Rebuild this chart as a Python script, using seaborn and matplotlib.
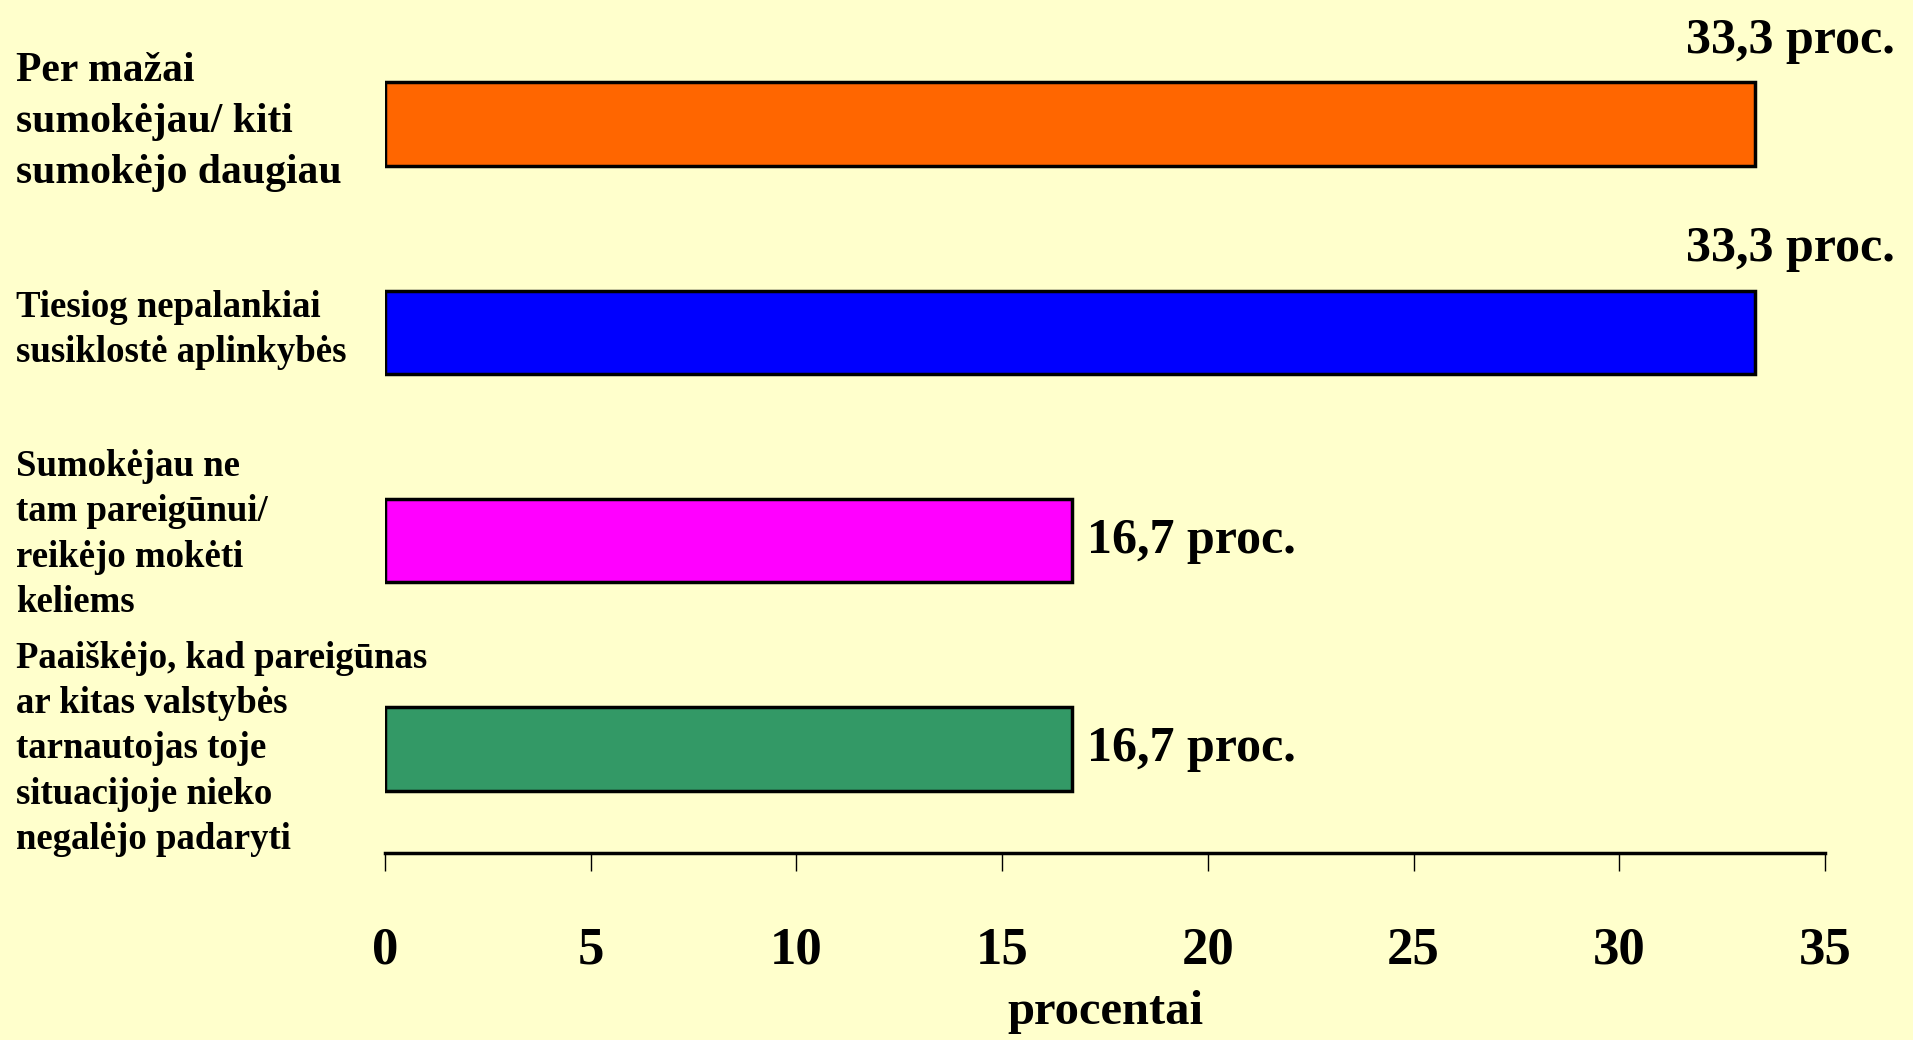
import matplotlib
matplotlib.use("Agg")
import matplotlib.pyplot as plt
import matplotlib.transforms as mtransforms
import seaborn as sns
import pandas as pd

categories = [
    "Per mažai\nsumokėjau/ kiti\nsumokėjo daugiau",
    "Tiesiog nepalankiai\nsusiklostė aplinkybės",
    "Sumokėjau ne\ntam pareigūnui/\nreikėjo mokėti\nkeliems",
    "Paaiškėjo, kad pareigūnas\nar kitas valstybės\ntarnautojas toje\nsituacijoje nieko\nnegalėjo padaryti",
]
values = [33.3, 33.3, 16.7, 16.7]
value_labels = ["33,3 proc.", "33,3 proc.", "16,7 proc.", "16,7 proc."]
bar_colors = ["#FF6600", "#0000FF", "#FF00FF", "#339966"]
xticks = [0, 5, 10, 15, 20, 25, 30, 35]
xlabel = "procentai"

bg = "#FFFFCC"

sns.set_style("white")
plt.rcParams['font.family'] = ['Liberation Serif', 'DejaVu Serif']
plt.rcParams['font.weight'] = 'bold'
plt.rcParams['text.color'] = 'black'
plt.rcParams['xtick.color'] = 'black'
plt.rcParams['xtick.labelcolor'] = 'black'
plt.rcParams['axes.labelcolor'] = 'black'

df = pd.DataFrame({"cat": categories, "val": values})

fig = plt.figure(figsize=(19.13, 10.40), dpi=100, facecolor=bg)
ax = fig.add_axes([0.2013, 0.1798, 0.7527, 0.801])
ax.set_facecolor(bg)

sns.barplot(data=df, x="val", y="cat", hue="cat", palette=bar_colors, orient="h",
            width=0.4, edgecolor="black", linewidth=2.5, saturation=1,
            legend=False, ax=ax)

ax.set_xlim(0, 35)
ax.set_ylim(3.5, -0.5)
ax.set_xticks(xticks)
ax.set_xticklabels([str(t) for t in xticks], fontsize=38, fontweight='bold')
ax.tick_params(axis='x', bottom=True, direction='out', length=13, width=1,
               color='black', pad=40)
ax.set_yticks([])
ax.set_ylabel("")
ax.set_xlabel(xlabel, fontsize=35, fontweight='bold', labelpad=11)
for s in ["top", "right", "left"]:
    ax.spines[s].set_visible(False)
ax.spines["bottom"].set_linewidth(2.5)
ax.spines["bottom"].set_color("black")

# category labels at the left edge of the figure
trans = mtransforms.blended_transform_factory(fig.transFigure, ax.transData)
label_sizes = [30, 26.5, 26.5, 26.5]
label_spacing = [1.45, 1.38, 1.38, 1.38]
label_shift = [-0.01, -0.01, -0.03, 0.0]
for i, lab in enumerate(categories):
    fig.text(16 / 1913, i + label_shift[i], lab, transform=trans, ha='left', va='center',
             fontsize=label_sizes[i], fontweight='bold', linespacing=label_spacing[i])

# value labels
for i, (v, lab) in enumerate(zip(values, value_labels)):
    if v > 30:
        ax.text(36.7, i - 0.4, lab, ha='right', va='center', fontsize=36,
                fontweight='bold', clip_on=False)
    else:
        ax.text(v + 0.35, i, lab, ha='left', va='center', fontsize=36,
                fontweight='bold', clip_on=False)

fig.savefig("out.png", dpi=100, facecolor=bg)
